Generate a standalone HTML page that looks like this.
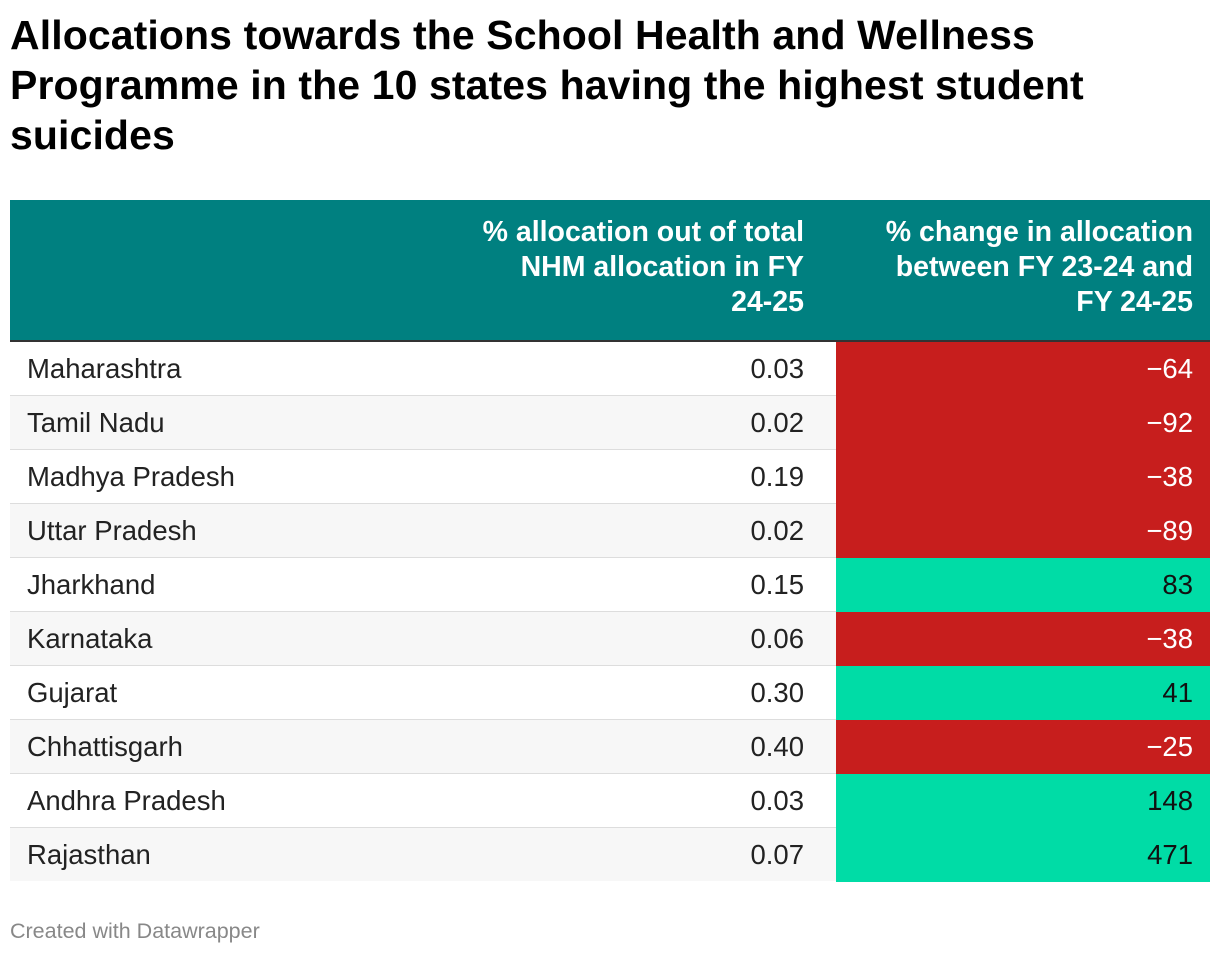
<!DOCTYPE html>
<html><head><meta charset="utf-8"><style>
body{margin:0;width:1220px;height:956px;background:#fff;font-family:"Liberation Sans",Arial,sans-serif;position:relative;overflow:hidden}
h1{position:absolute;left:10px;top:10px;margin:0;font-size:41px;line-height:50px;font-weight:bold;color:#000;width:1200px;letter-spacing:0.1px}
#hdr{position:absolute;left:10px;top:200px;width:1200px;height:140px;background:#008080;border-bottom:2px solid #333}
.hc{position:absolute;top:15px;color:#fff;font-weight:bold;font-size:28.5px;line-height:35px;text-align:right}
.row{position:absolute;left:10px;width:1200px;height:53px;border-bottom:1px solid #ddd;font-size:27.5px;color:#222}
.row span{position:absolute;top:0;line-height:53px}
.c3{position:absolute;left:826px;top:0;width:374px;height:54px}
#foot{position:absolute;left:10px;top:919px;font-size:21.5px;color:#888}
</style></head><body>
<h1>Allocations towards the School Health and Wellness Programme in the 10 states having the highest student suicides</h1>
<div id="hdr">
<div class="hc" style="left:462px;width:332px">% allocation out of total NHM allocation in FY 24-25</div>
<div class="hc" style="left:866px;width:317px">% change in allocation between FY 23-24 and FY 24-25</div>
</div>
<div id="rows"></div>
<div id="foot">Created with Datawrapper</div>
<script>
const states=["Maharashtra","Tamil Nadu","Madhya Pradesh","Uttar Pradesh","Jharkhand","Karnataka","Gujarat","Chhattisgarh","Andhra Pradesh","Rajasthan"];
const allocation=[0.03,0.02,0.19,0.02,0.15,0.06,0.30,0.40,0.03,0.07];
const change=[-64,-92,-38,-89,83,-38,41,-25,148,471];
const rows=document.getElementById('rows');
states.forEach((s,i)=>{
const r=document.createElement('div');r.className='row';


r.style.top=(342+i*54)+'px';
r.style.background=i%2?'#f7f7f7':'#fff';
if(i===states.length-1)r.style.borderBottom='none';
const c=document.createElement('div');c.className='c3';


const v=change[i];
c.style.background=v<0?'#c71e1d':'#00dca6';
c.innerHTML='<span style="right:17px;color:'+(v<0?'#fff':'#111')+'">'+(v<0?'\u2212'+Math.abs(v):v)+'</span>';
r.innerHTML='<span style="left:17px">'+s+'</span><span style="right:406px">'+allocation[i].toFixed(2)+'</span>';
r.appendChild(c);rows.appendChild(r);
});
</script>
</body></html>
